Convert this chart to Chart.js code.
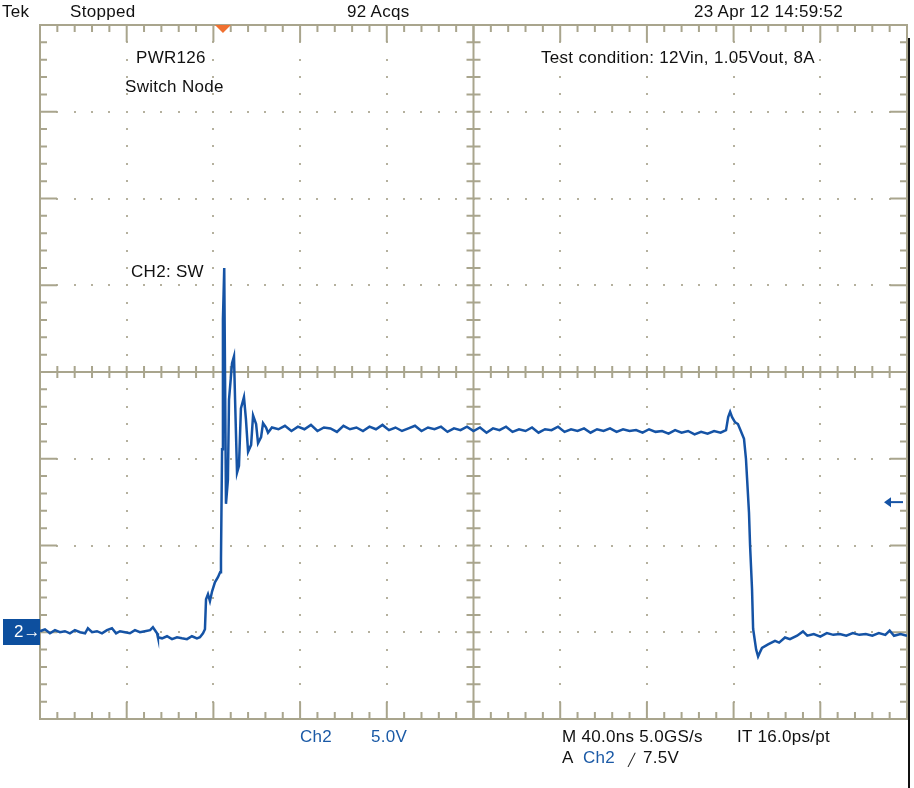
<!DOCTYPE html>
<html lang="en">
<head>
  <meta charset="UTF-8" />
  <title>PWR126 Switch Node</title>
  <script src="https://cdn.jsdelivr.net/npm/chart.js"></script>
  <style>
    body { margin: 0; background: #fff; font-family: "Liberation Sans", Arial, sans-serif; }
    #wrap { position: relative; width: 914px; height: 788px; overflow: hidden; }
    canvas { position: absolute; left: 0; top: 0; }
    .t { position: absolute; font-size: 17px; line-height: 20px; letter-spacing: 0.3px; color: #111; white-space: nowrap; }
    .b { color: #1b5aa6; }
    #gnd { position: absolute; left: 3px; width: 37px; height: 26px; background: #0d4f9e; color: #fff;
           font-size: 17px; line-height: 26px; box-sizing: border-box; padding-left: 11px; }
  </style>
</head>
<body>

<div id="wrap">
  <canvas id="scope" width="914" height="788"></canvas>

  <div class="t" style="left:2px; top:2px;">Tek</div>
  <div class="t" style="left:70px; top:2px;">Stopped</div>
  <div class="t" style="left:347px; top:2px;">92 Acqs</div>
  <div class="t" style="left:694px; top:2px;">23 Apr 12 14:59:52</div>

  <div class="t" style="left:136px; top:48px;">PWR126</div>
  <div class="t" style="left:125px; top:77px;">Switch Node</div>
  <div class="t" style="left:541px; top:48px;">Test condition: 12Vin, 1.05Vout, 8A</div>
  <div class="t" style="left:131px; top:262px;">CH2: SW</div>

  <div class="t b" style="left:300px; top:727px;">Ch2</div>
  <div class="t b" style="left:371px; top:727px;">5.0V</div>
  <div class="t" style="left:562px; top:727px;">M 40.0ns 5.0GS/s</div>
  <div class="t" style="left:737px; top:727px;">IT 16.0ps/pt</div>
  <div class="t" style="left:562px; top:748px;">A</div>
  <div class="t b" style="left:583px; top:748px;">Ch2</div>
  <div class="t" style="left:628px; top:750px; font-size:12px;">╱</div>
  <div class="t" style="left:643px; top:748px;">7.5V</div>

  <div id="gnd">2→</div>
</div>

<script>
  // time axis in ns (40 ns/div, 10 div), volts relative to CH2 ground (5 V/div, 8 div)
  const xMin = 0, xMax = 400, nsPerDiv = 40;
  const yMin = -5, yMax = 35, voltsPerDiv = 5;
  const triggerTime = 84.4;
  const triggerLevel = 7.5;

  const times = [
    0, 2.3, 4.6, 6.9, 9.2, 11.5, 13.8, 16.1, 18.5, 20.8, 22.1, 24.0, 26.3, 28.6, 30.9, 33.2, 35.1,
    36.9, 39.2, 41.5, 43.8, 46.1, 48.4, 50.8, 52.1, 54.0, 54.4, 56.3, 58.6, 60.9, 63.2, 65.5, 67.8,
    70.1, 72.4, 73.8, 75.2, 76.1, 76.6, 77.5, 78.4, 79.4, 80.7, 82.1, 83.1, 83.5, 84.0, 84.4, 84.7, 85.0,
    85.8, 86.7, 87.2, 88.6, 89.5, 90.0, 90.9, 91.8, 92.7, 94.1, 95.0, 96.0, 97.4, 98.3, 99.7, 100.6,
    102.0, 102.9, 104.3, 105.2, 107.0,
    110, 113, 116, 119, 122, 125, 128, 131, 134, 137, 140, 143, 146, 149, 152, 155, 158, 161, 164,
    167, 170, 173, 176, 179, 182, 185, 188, 191, 194, 197, 200, 203, 206, 209, 212, 215, 218, 221,
    224, 227, 230, 233, 236, 239, 242, 245, 248, 251, 254, 257, 260, 263, 266, 269, 272, 275, 278,
    281, 284, 287, 290, 293, 296, 299, 302, 305, 308, 311, 314, 316.5,
    317.5, 318.4, 319.3, 320.7, 322.0, 323.0, 324.8, 325.7, 326.2, 327.1, 327.6, 328.5, 329.0, 330.4,
    331.3, 332.0, 333.1, 335.9, 339.1, 341, 343.7, 346, 349.3, 352, 354, 357, 360, 363, 366, 369,
    372, 375, 378, 381, 384, 387, 390, 392, 394, 397, 400
  ];

  const volts = [
    0.06, 0.17, -0.06, 0.12, 0, 0.06, -0.06, 0.12, 0, -0.06, 0.23, 0, 0.06, -0.06, 0.12, 0.23, -0.06,
    0.06, 0, -0.06, 0.12, 0, 0.06, 0.12, 0.29, -0.06, -0.29, -0.35, -0.23, -0.40, -0.29, -0.35, -0.40,
    -0.23, -0.35, -0.29, -0.06, 0.17, 1.90, 2.19, 1.79, 2.36, 2.88, 3.17, 3.46, 4.21, 10.55, 18.05, 19.49, 20.99,
    7.4, 8.8, 13.4, 15.5, 15.9, 13.4, 9.2, 9.6, 12.9, 13.55, 12.3, 10.4, 10.8, 12.5, 12.0, 10.9,
    11.25, 12.05, 11.8, 11.5, 11.8,
    11.7, 11.9, 11.6, 11.85, 11.7, 11.95, 11.6, 11.8, 11.75, 11.55, 11.9, 11.7, 11.8, 11.6, 11.85, 11.7,
    11.95, 11.65, 11.8, 11.6, 11.75, 11.9, 11.6, 11.8, 11.7, 11.85, 11.55, 11.75, 11.65, 11.85, 11.6,
    11.8, 11.5, 11.75, 11.65, 11.85, 11.55, 11.7, 11.6, 11.8, 11.5, 11.7, 11.65, 11.85, 11.55, 11.7,
    11.6, 11.75, 11.5, 11.7, 11.6, 11.75, 11.55, 11.7, 11.6, 11.65, 11.5, 11.7, 11.55, 11.6, 11.45,
    11.65, 11.5, 11.6, 11.4, 11.55, 11.45, 11.6, 11.5, 11.65,
    12.4, 12.7, 12.4, 12.1, 12.0, 11.7, 11.15, 10.0, 8.9, 6.9, 5.0, 2.5, 0.2, -1.0,
    -1.4, -1.2, -0.9, -0.7, -0.5, -0.6, -0.3, -0.4, -0.2, 0.05, -0.2, -0.1, -0.25, -0.05, -0.15, -0.1,
    -0.2, -0.05, -0.15, -0.1, -0.2, -0.05, -0.15, 0.1, -0.2, -0.1, -0.2
  ];

  const gridColor = "#a9a58d";
  const dotColor = "#b5b19e";
  const traceColor = "#1553a5";

  const scopeGrid = {
    id: "scopeGrid",
    beforeDatasetsDraw(chart) {
      const { ctx, chartArea: a, scales: { x, y } } = chart;
      const xMinor = nsPerDiv / 5, yMinor = voltsPerDiv / 5;
      const xd = (xMax - xMin) / nsPerDiv, yd = (yMax - yMin) / voltsPerDiv;
      ctx.save();

      // dotted major gridlines
      ctx.fillStyle = dotColor;
      for (let i = 1; i < xd; i++) {
        if (i === xd / 2) continue;
        const px = Math.round(x.getPixelForValue(xMin + i * nsPerDiv));
        for (let k = 1; k < yd * 5; k++) {
          const py = Math.round(y.getPixelForValue(yMin + k * yMinor));
          ctx.fillRect(px - 1, py - 1, 2, 2);
        }
      }
      for (let j = 1; j < yd; j++) {
        if (j === yd / 2) continue;
        const py = Math.round(y.getPixelForValue(yMin + j * voltsPerDiv));
        for (let k = 1; k < xd * 5; k++) {
          const px = Math.round(x.getPixelForValue(xMin + k * xMinor));
          ctx.fillRect(px - 1, py - 1, 2, 2);
        }
      }

      ctx.strokeStyle = gridColor;
      ctx.lineWidth = 2;
      const cx = x.getPixelForValue((xMin + xMax) / 2);
      const cy = y.getPixelForValue((yMin + yMax) / 2);

      // centre cross with ticks
      ctx.beginPath();
      ctx.moveTo(cx, a.top); ctx.lineTo(cx, a.bottom);
      ctx.moveTo(a.left, cy); ctx.lineTo(a.right, cy);
      for (let k = 1; k < yd * 5; k++) {
        const py = y.getPixelForValue(yMin + k * yMinor);
        ctx.moveTo(cx - 7, py); ctx.lineTo(cx + 7, py);
      }
      for (let k = 1; k < xd * 5; k++) {
        const px = x.getPixelForValue(xMin + k * xMinor);
        ctx.moveTo(px, cy - 6); ctx.lineTo(px, cy + 6);
      }
      ctx.stroke();

      // frame and inward ticks
      ctx.beginPath();
      ctx.rect(a.left, a.top, a.right - a.left, a.bottom - a.top);
      for (let k = 1; k < xd * 5; k++) {
        const px = x.getPixelForValue(xMin + k * xMinor);
        const len = k % 5 === 0 ? 17 : 7;
        ctx.moveTo(px, a.top); ctx.lineTo(px, a.top + len);
        ctx.moveTo(px, a.bottom); ctx.lineTo(px, a.bottom - len);
      }
      for (let k = 1; k < yd * 5; k++) {
        const py = y.getPixelForValue(yMin + k * yMinor);
        const len = k % 5 === 0 ? 17 : 7;
        ctx.moveTo(a.left, py); ctx.lineTo(a.left + len, py);
        ctx.moveTo(a.right, py); ctx.lineTo(a.right - len, py);
      }
      ctx.stroke();
      ctx.restore();
    },
    afterDraw(chart) {
      const { ctx, chartArea: a, scales: { x, y } } = chart;
      ctx.save();

      // trigger position marker
      const tx = x.getPixelForValue(triggerTime);
      ctx.fillStyle = "#f07030";
      ctx.beginPath();
      ctx.moveTo(tx - 8, a.top); ctx.lineTo(tx + 8, a.top); ctx.lineTo(tx, a.top + 8);
      ctx.closePath(); ctx.fill();

      // trigger level arrow
      const ty = y.getPixelForValue(triggerLevel);
      ctx.strokeStyle = traceColor; ctx.fillStyle = traceColor; ctx.lineWidth = 2;
      ctx.beginPath(); ctx.moveTo(a.right - 4, ty); ctx.lineTo(a.right - 18, ty); ctx.stroke();
      ctx.beginPath();
      ctx.moveTo(a.right - 23, ty); ctx.lineTo(a.right - 16, ty - 5); ctx.lineTo(a.right - 16, ty + 5);
      ctx.closePath(); ctx.fill();

      // dark edge at right
      ctx.fillStyle = "#111";
      ctx.fillRect(a.right + 1, a.top + 13, 2, chart.height - a.top - 13);
      ctx.restore();

      document.getElementById("gnd").style.top = (Math.round(y.getPixelForValue(0)) - 13) + "px";
    }
  };

  const points = times.map((t, i) => ({ x: t, y: volts[i] }));

  new Chart(document.getElementById("scope").getContext("2d"), {
    type: "line",
    data: {
      datasets: [{
        label: "CH2: SW",
        data: points,
        borderColor: traceColor,
        borderWidth: 2.5,
        pointRadius: 0,
        tension: 0,
        fill: false
      }]
    },
    options: {
      responsive: false,
      animation: false,
      layout: { padding: { left: 40, right: 7, top: 25, bottom: 69 } },
      plugins: { legend: { display: false }, tooltip: { enabled: false } },
      scales: {
        x: { type: "linear", min: xMin, max: xMax, display: false },
        y: { type: "linear", min: yMin, max: yMax, display: false }
      }
    },
    plugins: [scopeGrid]
  });
</script>
</body>
</html>
